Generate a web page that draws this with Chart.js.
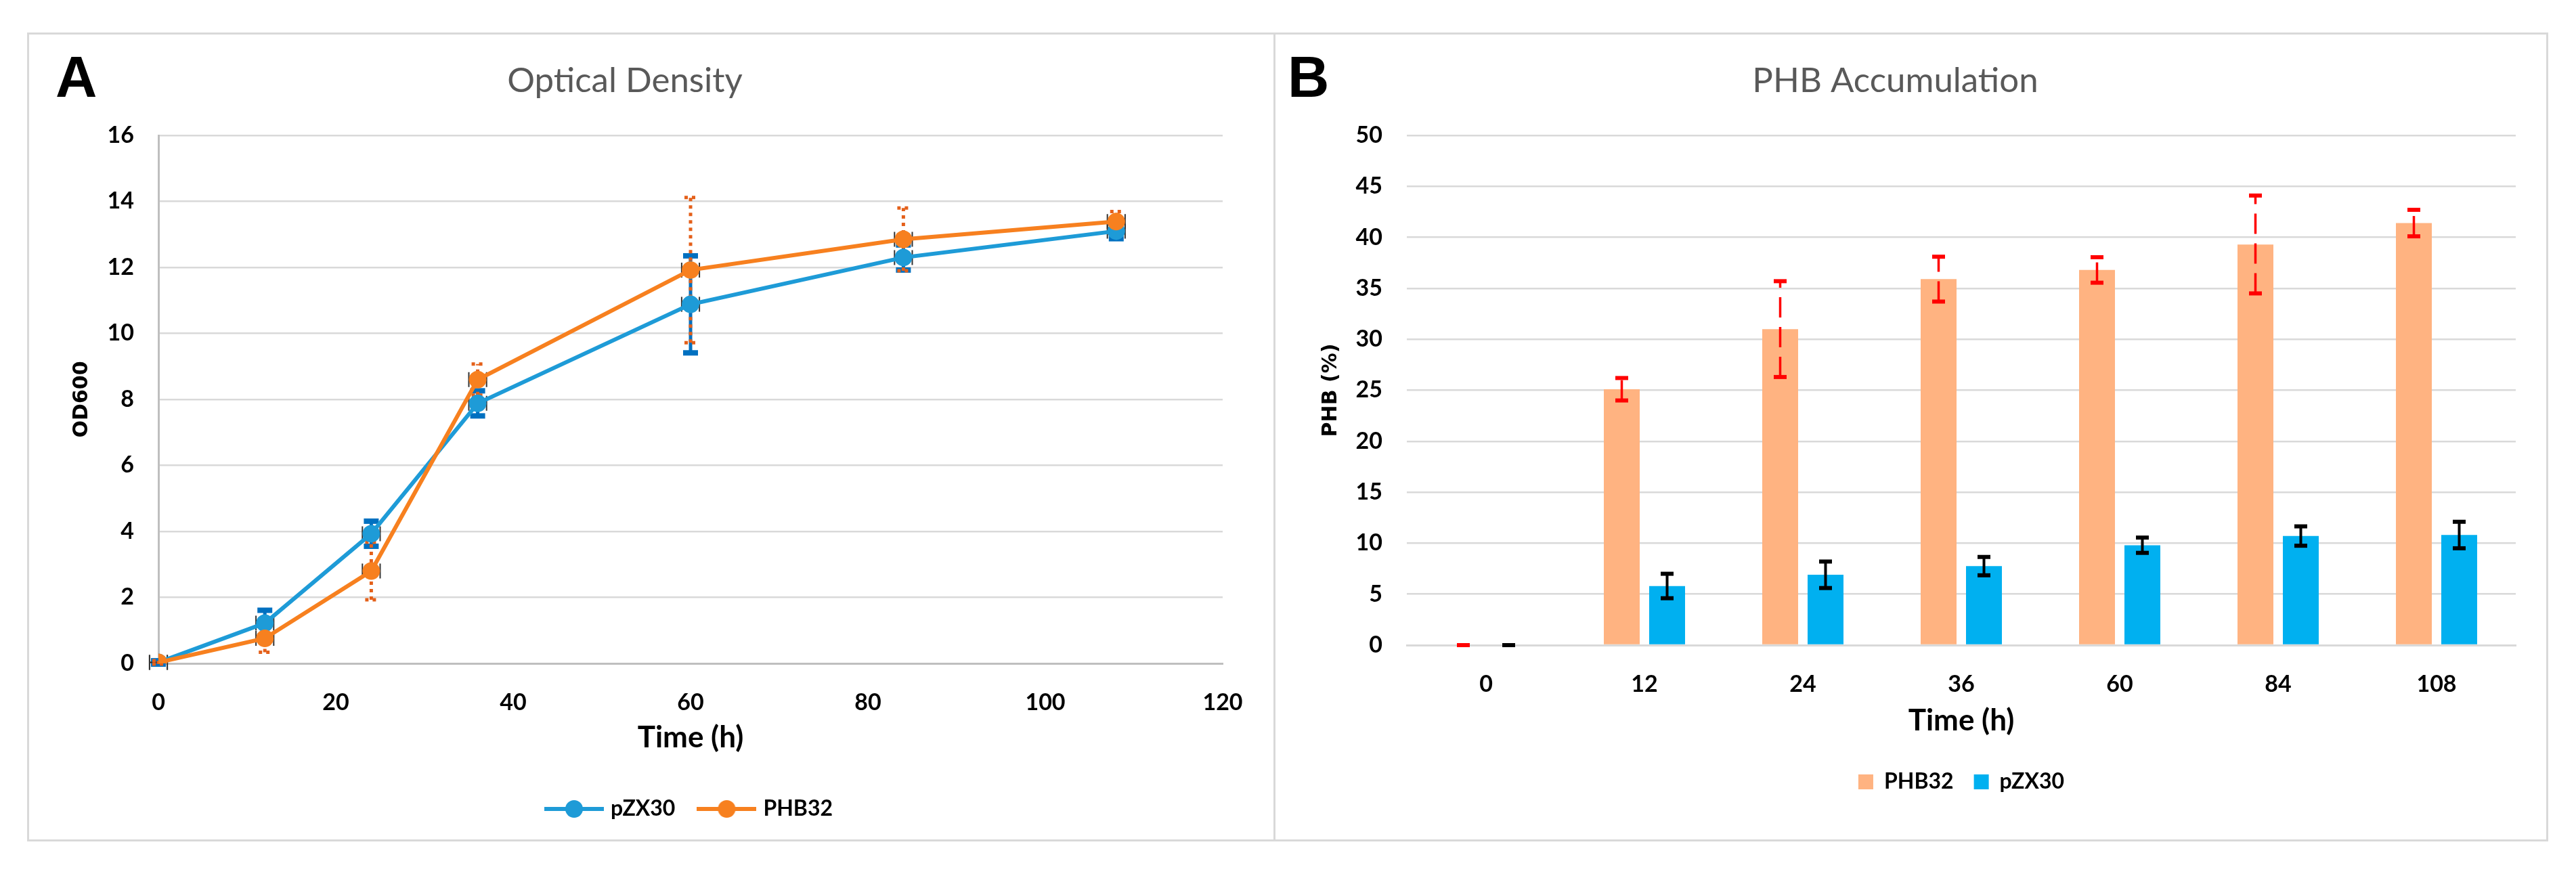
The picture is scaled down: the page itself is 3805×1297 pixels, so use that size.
<!DOCTYPE html>
<html>
<head>
<meta charset="utf-8">
<script src="https://cdn.jsdelivr.net/npm/chart.js@4.4.1/dist/chart.umd.min.js"></script>
<style>
  html, body { margin: 0; padding: 0; background: #fff; }
  body { width: 3805px; height: 1297px; position: relative; overflow: hidden; }
  .frame { position: absolute; box-sizing: border-box; border: 3px solid #D9D9D9; }
  canvas { position: absolute; }
  .tag { position: absolute; font-family: 'Liberation Sans', Arial, sans-serif; font-weight: bold;
         font-size: 85px; line-height: 1; color: #000; }
</style>
</head>
<body>
<div class="frame" style="left:40px;top:48px;width:1844px;height:1195px"></div>
<div class="frame" style="left:1881px;top:48px;width:1883px;height:1195px"></div>
<canvas id="odChart" style="left:40px;top:48px"></canvas>
<canvas id="phbChart" style="left:1883px;top:48px"></canvas>
<div class="tag" style="left:82px;top:71px">A</div>
<div class="tag" style="left:1902px;top:71px">B</div>

<script>
// ===============================
// DATA
// ===============================
const odTime = [0, 12, 24, 36, 60, 84, 108]
const odPZX30 = [0.03, 1.22, 3.93, 7.88, 10.88, 12.3, 13.1]
const odPZX30Err = [0.05, 0.39, 0.38, 0.38, 1.47, 0.38, 0.23]
const odPHB32 = [0.03, 0.76, 2.8, 8.6, 11.92, 12.85, 13.39]
const odPHB32Err = [0.05, 0.42, 0.87, 0.47, 2.2, 0.95, 0.3]
const odTimeErr = [1, 1, 1, 1, 1, 1, 1]

const phbTime = ["0", "12", "24", "36", "60", "84", "108"]
const phbPHB32 = [0, 25.1, 31.0, 35.9, 36.8, 39.3, 41.4]
const phbPHB32Err = [0, 1.1, 4.7, 2.2, 1.25, 4.8, 1.3]
const phbPZX30 = [0, 5.8, 6.9, 7.75, 9.8, 10.7, 10.8]
const phbPZX30Err = [0, 1.2, 1.3, 0.9, 0.75, 0.95, 1.3]

// ===============================
// STYLE
// ===============================
const NARROW = "Lato, 'Open Sans', sans-serif"
const WIDE = "'DejaVu Sans', Verdana, sans-serif"
const BLUE = "#1E9BD7"
const ORANGE = "#F7801F"
const BAR_ORANGE = "#FFB381"
const BAR_BLUE = "#00B0F0"
const GRID = "#D9D9D9"

Chart.defaults.color = "#000"
Chart.defaults.font.family = NARROW

// ===============================
// ERROR BARS PLUGIN
// ===============================
function drawErrorBars(chart) {
  const ctx = chart.ctx
  const xScale = chart.scales.x
  const yScale = chart.scales.y

  chart.data.datasets.forEach((ds, i) => {
    const eb = ds.errorBars
    if (!eb) return
    const meta = chart.getDatasetMeta(i)

    meta.data.forEach((el, j) => {
      const raw = ds.data[j]
      const val = typeof raw === "object" ? raw.y : raw
      const x = el.x
      const y = el.y
      const yTop = yScale.getPixelForValue(val + eb.values[j])
      const yBot = yScale.getPixelForValue(val - eb.values[j])

      ctx.save()

      // horizontal (time) error caps
      if (eb.xValues) {
        const xv = typeof raw === "object" ? raw.x : j
        const xl = xScale.getPixelForValue(xv - eb.xValues[j])
        const xr = xScale.getPixelForValue(xv + eb.xValues[j])
        ctx.strokeStyle = eb.xColor
        ctx.lineWidth = 2
        ctx.beginPath()
        ctx.moveTo(xl, y); ctx.lineTo(xr, y)
        ctx.moveTo(xl, y - eb.xCap / 2); ctx.lineTo(xl, y + eb.xCap / 2)
        ctx.moveTo(xr, y - eb.xCap / 2); ctx.lineTo(xr, y + eb.xCap / 2)
        ctx.stroke()
      }

      ctx.strokeStyle = eb.color
      ctx.lineWidth = eb.width
      ctx.setLineDash(eb.dash || [])
      ctx.beginPath()
      ctx.moveTo(x, yBot)
      ctx.lineTo(x, yTop)
      ctx.stroke()

      ctx.lineWidth = eb.capThickness
      ctx.setLineDash(eb.capDash || [])
      ;[yTop, yBot].forEach(cy => {
        ctx.beginPath()
        ctx.moveTo(x - eb.capWidth / 2, cy)
        ctx.lineTo(x + eb.capWidth / 2, cy)
        ctx.stroke()
      })

      ctx.restore()
    })
  })
}

const errorBarPlugin = {
  id: "errorBars",
  beforeDatasetsDraw(chart, args, opts) { if (opts.under) drawErrorBars(chart) },
  afterDatasetsDraw(chart, args, opts) { if (!opts.under) drawErrorBars(chart) }
}

// line + circle legend marker
function lineMarker(color) {
  const c = document.createElement("canvas")
  c.width = 88
  c.height = 30
  const g = c.getContext("2d")
  g.strokeStyle = color
  g.lineWidth = 6
  g.beginPath(); g.moveTo(0, 15); g.lineTo(88, 15); g.stroke()
  g.fillStyle = color
  g.beginPath(); g.arc(44, 15, 13, 0, Math.PI * 2); g.fill()
  return c
}

function setupCanvas(id, w, h) {
  const cv = document.getElementById(id)
  cv.width = w
  cv.height = h
  cv.style.width = w + "px"
  cv.style.height = h + "px"
  return cv.getContext("2d")
}

const titleOpts = text => ({
  display: true,
  text: text,
  color: "#595959",
  font: { family: NARROW, size: 51, weight: "normal", lineHeight: 1.2 },
  padding: { top: 41.4, bottom: 49.4 }
})

const tickFont = { family: NARROW, size: 34, weight: "bold", lineHeight: 1.2 }
const xTitleFont = { family: NARROW, size: 44, weight: "bold", lineHeight: 1.2 }
const yTitleFont = { family: WIDE, size: 30, weight: "bold", lineHeight: 1.2 }
const legendFont = { family: NARROW, size: 32, weight: "bold" }

// ===============================
// CHART A : OPTICAL DENSITY
// ===============================
const toXY = arr => arr.map((v, i) => ({ x: odTime[i], y: v }))

new Chart(setupCanvas("odChart", 1843, 1194), {
  type: "line",
  data: {
    datasets: [
      {
        label: "pZX30",
        data: toXY(odPZX30),
        borderColor: BLUE,
        backgroundColor: BLUE,
        borderWidth: 6,
        pointRadius: 13,
        pointBorderWidth: 0,
        tension: 0,
        order: 1,
        errorBars: {
          values: odPZX30Err, color: "#0070C0", width: 5, capWidth: 22, capThickness: 8,
          xValues: odTimeErr, xColor: "#333", xCap: 22
        }
      },
      {
        label: "PHB32",
        data: toXY(odPHB32),
        borderColor: ORANGE,
        backgroundColor: ORANGE,
        borderWidth: 6,
        pointRadius: 13,
        pointBorderWidth: 0,
        tension: 0,
        order: 0,
        errorBars: {
          values: odPHB32Err, color: "#E4601A", width: 5, dash: [5, 6], capWidth: 18, capThickness: 5,
          capDash: [5, 6], xValues: odTimeErr, xColor: "#333", xCap: 22
        }
      }
    ]
  },
  options: {
    responsive: false,
    animation: false,
    devicePixelRatio: 1,
    layout: { padding: { left: 0, right: 77, top: 0, bottom: 21 } },
    plugins: {
      errorBars: { under: true },
      tooltip: { enabled: false },
      title: titleOpts("Optical Density"),
      legend: {
        position: "bottom",
        fullSize: false,
        labels: {
          usePointStyle: true,
          pointStyleWidth: 76,
          boxHeight: 30,
          padding: 38,
          color: "#000",
          font: legendFont,
          sort: (a, b) => a.datasetIndex - b.datasetIndex,
          generateLabels: chart => Chart.defaults.plugins.legend.labels.generateLabels(chart).map(item => {
            item.pointStyle = lineMarker(chart.data.datasets[item.datasetIndex].borderColor)
            return item
          })
        }
      }
    },
    scales: {
      x: {
        type: "linear",
        min: 0,
        max: 120,
        afterFit: s => { s.height = 161 },
        ticks: { stepSize: 20, padding: 29.6, font: tickFont, color: "#000" },
        grid: { display: false },
        border: { display: true, color: "#BFBFBF", width: 3 },
        title: { display: true, text: "Time (h)", font: xTitleFont, color: "#000", padding: { top: 0, bottom: 24.6 } }
      },
      y: {
        min: 0,
        max: 16,
        afterFit: s => { s.width = 194 },
        ticks: { stepSize: 2, padding: 36, font: tickFont, color: "#000" },
        grid: { color: GRID, lineWidth: 2.5, drawTicks: false },
        border: { display: true, color: "#BFBFBF", width: 3 },
        title: { display: true, text: "OD600", font: yTitleFont, color: "#000", padding: { top: 63, bottom: 0 } }
      }
    }
  },
  plugins: [errorBarPlugin]
})

// ===============================
// CHART B : PHB ACCUMULATION
// ===============================
new Chart(setupCanvas("phbChart", 1880, 1194), {
  type: "bar",
  data: {
    labels: phbTime,
    datasets: [
      {
        label: "PHB32",
        data: phbPHB32,
        backgroundColor: BAR_ORANGE,
        categoryPercentage: 0.5726,
        barPercentage: 0.791,
        errorBars: { values: phbPHB32Err, color: "#FF0000", width: 3.5, dash: [30, 14], capWidth: 19, capThickness: 6 }
      },
      {
        label: "pZX30",
        data: phbPZX30,
        backgroundColor: BAR_BLUE,
        categoryPercentage: 0.5726,
        barPercentage: 0.791,
        errorBars: { values: phbPZX30Err, color: "#000000", width: 4, capWidth: 19, capThickness: 6 }
      }
    ]
  },
  options: {
    responsive: false,
    animation: false,
    devicePixelRatio: 1,
    layout: { padding: { left: 0, right: 47, top: 0, bottom: 61 } },
    plugins: {
      errorBars: { under: false },
      tooltip: { enabled: false },
      title: titleOpts("PHB Accumulation"),
      legend: {
        position: "bottom",
        fullSize: false,
        labels: {
          boxWidth: 22,
          boxHeight: 22,
          padding: 30,
          color: "#000",
          font: legendFont
        }
      }
    },
    scales: {
      x: {
        afterFit: s => { s.height = 156 },
        ticks: { padding: 29.6, font: tickFont, color: "#000" },
        grid: { display: false },
        border: { display: true, color: GRID, width: 3 },
        title: { display: true, text: "Time (h)", font: xTitleFont, color: "#000", padding: { top: 0, bottom: 17.6 } }
      },
      y: {
        min: 0,
        max: 50,
        afterFit: s => { s.width = 195 },
        ticks: { stepSize: 5, padding: 36, font: tickFont, color: "#000" },
        grid: { color: GRID, lineWidth: 2.5, drawTicks: false },
        border: { display: false },
        title: { display: true, text: "PHB (%)", font: yTitleFont, color: "#000", padding: { top: 65, bottom: 0 } }
      }
    }
  },
  plugins: [errorBarPlugin]
})
</script>
</body>
</html>
